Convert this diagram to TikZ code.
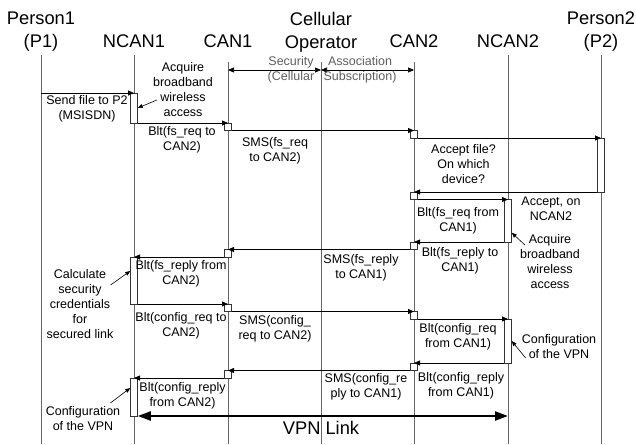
\documentclass[tikz,border=0pt]{standalone}
\usepackage{fontspec}
\setmainfont{Liberation Sans}
\usetikzlibrary{arrows.meta}

\begin{document}
\begin{tikzpicture}[x=1pt,y=-1pt,
    hdr/.style={font=\fontsize{18.3}{23}\selectfont, align=center, inner sep=0},
    lbl/.style={font=\fontsize{12.5}{15}\selectfont, align=center, inner sep=0},
    life/.style={draw=black!60, line width=0.9pt},
    act/.style={draw=black!80, fill=white, line width=0.8pt, minimum width=7.5pt, minimum height=#1, inner sep=0, outer sep=0, anchor=north},
    act/.default=7.5pt,
    msg/.style={-{Triangle[length=6pt,width=5pt]}, line width=0.8pt},
    both/.style={{Triangle[length=6pt,width=5pt]}-{Triangle[length=6pt,width=5pt]}, line width=0.7pt},
    note/.style={-{Triangle[length=5pt,width=4pt]}, line width=0.6pt}]
            \useasboundingbox (0,0) rectangle (636,444);
            \node [hdr] (p1) at (41,32) {Person1\\(P1)};
            \node [hdr,anchor=base] (ncan1) at (134,48) {NCAN1};
            \node [hdr,anchor=base] (can1) at (228,48) {CAN1};
            \node [hdr] (op) at (321,32) {Cellular\\Operator};
            \node [hdr,anchor=base] (can2) at (414,48) {CAN2};
            \node [hdr,anchor=base] (ncan2) at (508,48) {NCAN2};
            \node [hdr] (p2) at (601,32) {Person2\\(P2)};
            \foreach \x/\t in {41/55,134/55,228/62,321/62,414/62,508/55,601/55}
                \draw [life] (\x,\t) -- (\x,444);
            % security association
            \coordinate (sa1) at (228,70);
            \coordinate (sa2) at (321,70);
            \coordinate (sa3) at (414,70);
            \draw [both] (sa1) -- (sa2);
            \draw [both] (sa2) -- (sa3);
            \node [lbl,text=black!63] (sec) at (291,69.5) {Security\\(Cellular};
            \node [lbl,text=black!63] (asc) at (360,69.5) {Association\\Subscription)};
            % activations
            \coordinate (snd) at (41,93);
            \node [act=30pt] (a1) at (134,93) {};
            \node [act] (c1) at (228,123) {};
            \node [act] (c2) at (414,130.5) {};
            \node [act=54pt] (pb) at (601,138) {};
            \node [act] (c3) at (414,192) {};
            \node [act=42.5pt] (n1) at (508,199.5) {};
            \node [act] (c4) at (414,242) {};
            \node [act] (c5) at (228,249.5) {};
            \node [act=47pt] (a2) at (134,257) {};
            \node [act] (c6) at (228,304) {};
            \node [act] (c7) at (414,311.5) {};
            \node [act=44pt] (n2) at (508,319) {};
            \node [act] (c8) at (414,363) {};
            \node [act] (c9) at (228,370.5) {};
            \node [act=38pt] (a3) at (134,378) {};
            \coordinate (vpn) at (508,416);
            % messages
            \draw [msg] (snd) -- (a1.north);
            \draw [msg] (a1.south east) -- (c1.north);
            \draw [msg] (c1.south east) -- (c2.north);
            \draw [msg] (c2.south east) -- (pb.north);
            \draw [msg] (pb.south west) -- (c3.north);
            \draw [msg] (c3.south east) -- (n1.north);
            \draw [msg] (n1.south west) -- (c4.north);
            \draw [msg] (c4.south west) -- (c5.north);
            \draw [msg] (c5.south west) -- (a2.north);
            \draw [msg] (a2.south east) -- (c6.north);
            \draw [msg] (c6.south east) -- (c7.north);
            \draw [msg] (c7.south east) -- (n2.north);
            \draw [msg] (n2.south west) -- (c8.north);
            \draw [msg] (c8.south west) -- (c9.north);
            \draw [msg] (c9.south west) -- (a3.north);
            \draw [{Triangle[length=13pt,width=9pt]}-{Triangle[length=13pt,width=9pt]}, line width=2.2pt] (a3.south east) -- (vpn);
            % labels
            \node [lbl] (l1) at (87,109) {Send file to P2\\(MSISDN)};
            \node [lbl] (acq1) at (183,90) {Acquire\\broadband\\wireless\\access};
            \node [lbl] (l2) at (182,139.5) {Blt(fs\_req to\\CAN2)};
            \node [lbl] (l3) at (275,150.5) {SMS(fs\_req\\to CAN2)};
            \node [lbl] (l4) at (463.5,164) {Accept file?\\On which\\device?};
            \node [lbl] (l5) at (551,208.5) {Accept, on\\NCAN2};
            \node [lbl] (l6) at (458,220.5) {Blt(fs\_req from\\CAN1)};
            \node [lbl] (acq2) at (550,262) {Acquire\\broadband\\wireless\\access};
            \node [lbl] (l7) at (460,260.5) {Blt(fs\_reply to\\CAN1)};
            \node [lbl] (l8) at (361,268) {SMS(fs\_reply\\to CAN1)};
            \node [lbl] (l9) at (181,274) {Blt(fs\_reply from\\CAN2)};
            \node [lbl] (calc) at (80,304.5) {Calculate\\security\\credentials\\for\\secured link};
            \node [lbl] (l10) at (181,326) {Blt(config\_req to\\CAN2)};
            \node [lbl] (l11) at (275,328.5) {SMS(config\_\\req to CAN2)};
            \node [lbl] (l12) at (458,336.5) {Blt(config\_req\\from CAN1)};
            \node [lbl] (cfg2) at (559,347) {Configuration\\of the VPN};
            \node [lbl] (l13) at (461,385.5) {Blt(config\_reply\\from CAN1)};
            \node [lbl] (l14) at (366,387) {SMS(config\_re\\ply to CAN1)};
            \node [lbl] (l15) at (182.5,396) {Blt(config\_reply\\from CAN2)};
            \node [lbl] (cfg1) at (83,419) {Configuration\\of the VPN};
            \node [hdr] (vl) at (321,428) {VPN Link};
            % notes
            \draw [note] ([shift={(4,10)}]acq1.west) -- (a1.east);
            \draw [note] ([shift={(-3,-19.5)}]calc.east) -- ([shift={(0,14)}]a2.north west);
            \draw [note] ([shift={(5,-17)}]acq2.west) -- ([shift={(0,12)}]n1.east);
            \draw [note] ([shift={(4,11)}]cfg2.west) -- (n2.east);
            \draw [note] ([shift={(-10,-16)}]cfg1.east) -- ([shift={(0,-9)}]a3.west);
        \end{tikzpicture}
\end{document}
